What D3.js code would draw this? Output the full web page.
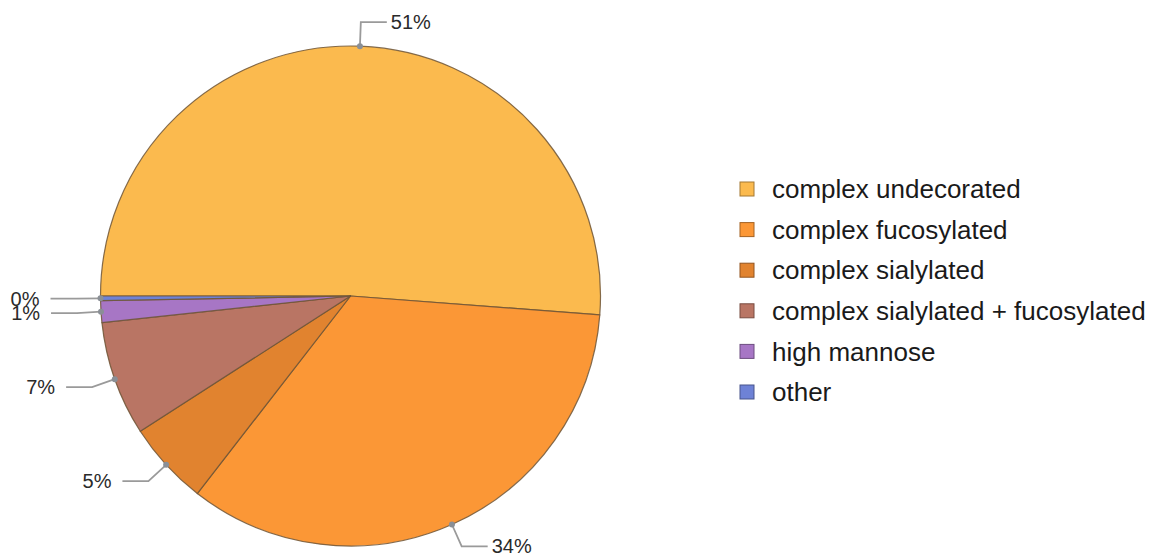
<!DOCTYPE html>
<html>
<head>
<meta charset="utf-8">
<script src="https://cdn.jsdelivr.net/npm/d3@7"></script>
<style>
  html, body { margin: 0; padding: 0; background: #ffffff; }
  svg { display: block; font-family: Arial, "Liberation Sans", sans-serif; }
</style>
</head>
<body>
<svg id="chart" width="1163" height="556"></svg>
<script>
// Glycan composition shares (%)
const categories = [
  "complex undecorated",
  "complex fucosylated",
  "complex sialylated",
  "complex sialylated + fucosylated",
  "high mannose",
  "other"
];
const shares = [51.2, 34.3, 5.4, 7.4, 1.4, 0.3];
const colors = ["#FBBA4E", "#FB9736", "#E1832F", "#B97564", "#A776C5", "#6E82D6"];

const data = categories.map((name, i) => ({ name, value: shares[i], color: colors[i] }));
const total = d3.sum(shares);

const svg = d3.select("#chart");
const cx = 350.5, cy = 296, radius = 250;

// Slices begin at 9 o'clock and run clockwise in category order
const pie = d3.pie()
  .value(d => d.value)
  .sort(null)
  .startAngle(-Math.PI / 2)
  .endAngle(3 * Math.PI / 2);

const arcs = pie(data);
const arc = d3.arc().innerRadius(0).outerRadius(radius);

const g = svg.append("g").attr("transform", `translate(${cx},${cy})`);

g.selectAll("path.slice")
  .data(arcs)
  .join("path")
  .attr("class", "slice")
  .attr("d", arc)
  .attr("fill", d => d.data.color)
  .attr("stroke", "#6e5536")
  .attr("stroke-opacity", 0.85)
  .attr("stroke-width", 1.2)
  .attr("stroke-linejoin", "round");

// Percentage labels with elbow leader lines
const radialOut = 24, runLength = 26;
const pointAt = (a, r) => [r * Math.sin(a), -r * Math.cos(a)];

const labels = g.selectAll("g.label")
  .data(arcs)
  .join("g")
  .attr("class", "label");

labels.each(function(d) {
  const mid = (d.startAngle + d.endAngle) / 2;
  const p0 = pointAt(mid, radius);
  const p1 = pointAt(mid, radius + radialOut);
  const side = Math.sin(mid) >= 0 ? 1 : -1;
  const p2 = [p1[0] + side * runLength, p1[1]];
  const sel = d3.select(this);

  sel.append("polyline")
    .attr("points", [p0, p1, p2].map(p => p.join(",")).join(" "))
    .attr("fill", "none")
    .attr("stroke", "#9a9a9a")
    .attr("stroke-width", 1.8);

  sel.append("circle")
    .attr("cx", p0[0])
    .attr("cy", p0[1])
    .attr("r", 3)
    .attr("fill", "#8a8f96");

  sel.append("text")
    .attr("x", p2[0] + side * (side > 0 ? 4 : 11))
    .attr("y", p2[1])
    .attr("dy", "0.35em")
    .attr("text-anchor", side > 0 ? "start" : "end")
    .attr("font-size", 20)
    .attr("fill", "#2a2a2a")
    .text(Math.round(d.data.value / total * 100) + "%");
});

// Legend
const legendX = 740, legendY = 189, rowGap = 40.6, box = 14;
const legend = svg.append("g").attr("class", "legend");

const rows = legend.selectAll("g.row")
  .data(data)
  .join("g")
  .attr("class", "row")
  .attr("transform", (d, i) => `translate(${legendX},${legendY + i * rowGap})`);

rows.append("rect")
  .attr("x", 0)
  .attr("y", -box / 2)
  .attr("width", box)
  .attr("height", box)
  .attr("fill", d => d.color)
  .attr("stroke", d => d3.color(d.color).darker(1.2))
  .attr("stroke-width", 1);

rows.append("text")
  .attr("x", 32)
  .attr("y", 0)
  .attr("dy", "0.35em")
  .attr("font-size", 26)
  .attr("fill", "#1a1a1a")
  .text(d => d.name);
</script>
</body>
</html>
